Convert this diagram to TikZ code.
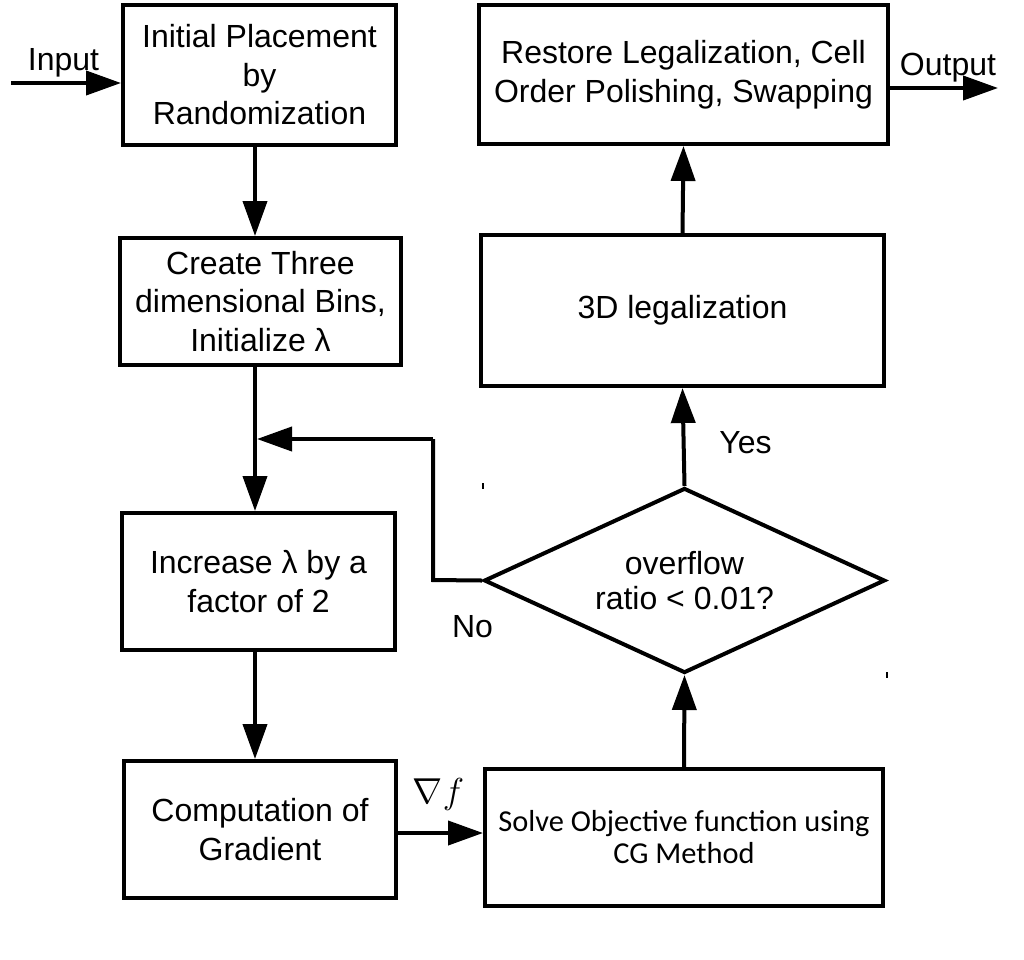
\documentclass[tikz,border=0pt]{standalone}
\usepackage{fontspec}
\setmainfont{Liberation Sans}
\newfontfamily\carlitofont{Carlito}
\usetikzlibrary{shapes.geometric,arrows.meta}
\begin{document}
\begin{tikzpicture}[x=1pt,y=-1pt,
  box/.style={draw,line width=4pt,inner sep=0pt,align=center,
    font=\fontsize{32}{38.5}\selectfont},
  dec/.style={draw,diamond,shape aspect=2.17,line width=4pt,inner sep=0pt,align=center,
    font=\fontsize{32}{35}\selectfont},
  lbl/.style={inner sep=0pt,anchor=base,font=\fontsize{32}{37}\selectfont},
  arr/.style={line width=4pt,-{Triangle[length=35pt,width=24pt]}},
  ln/.style={line width=4pt},
  tick/.style={line width=1.2pt}]
\useasboundingbox (0,0) rectangle (1024,959);
% nodes
\node[box,minimum width=273pt,minimum height=140pt] (b1) at (259.5,75) {Initial Placement\\by\\Randomization};
\node[box,minimum width=281pt,minimum height=127pt] (b2) at (260.5,301.5) {Create Three\\dimensional Bins,\\Initialize λ};
\node[box,minimum width=273pt,minimum height=137pt] (b3) at (258.5,581.5) {Increase λ by a\\factor of 2};
\node[box,minimum width=272pt,minimum height=137pt] (b4) at (260,829.5) {Computation of\\Gradient};
\node[box,minimum width=398pt,minimum height=137pt,font=\carlitofont\fontsize{30.4}{32}\selectfont] (b5) at (684,837.5) {Solve Objective function using\\CG Method};
\node[dec,minimum width=401pt,minimum height=185pt] (d) at (684.5,580.5) {overflow\\ratio < 0.01?};
\node[box,minimum width=403pt,minimum height=151pt] (b7) at (682.5,310.5) {3D legalization};
\node[box,minimum width=409pt,minimum height=139pt] (b8) at (683.5,74.5) {Restore Legalization, Cell\\Order Polishing, Swapping};
% helper coordinates
\coordinate (colL) at (255,0);
\coordinate (in) at (11,83);
\coordinate (out) at (998,88);
\coordinate (merge) at (255,439);
\coordinate (turn) at (433,580);
% connectors
\draw[arr] (in) -- (in -| b1.west);
\draw[arr] (out -| b8.east) -- (out);
\draw[arr] (b1.south -| colL) -- (b2.north -| colL);
\draw[arr] (b2.south -| colL) -- (b3.north -| colL);
\draw[arr] (b3.south -| colL) -- (b4.north -| colL);
\draw[arr] (b4.east |- 0,833) -- (b5.west |- 0,833);
\draw[arr] (b5.north) -- (d.south);
\draw[arr] (d.north) -- (b7.south);
\draw[arr] (b7.north) -- (b8.south);
\draw[ln] (d.west) -- (turn) -- (turn |- merge);
\draw[arr] (turn |- merge) -- ([xshift=2pt]merge);
% labels
\node[lbl] (tin) at (63.5,70) {Input};
\node[lbl] (tout) at (948,75) {Output};
\node[lbl] (tyes) at (745.5,453) {Yes};
\node[lbl] (tno) at (472.5,637) {No};
\node[lbl,font=\fontsize{24}{24}\selectfont] (tgrad) at (438.5,803) {\scalebox{1.45}{$\nabla f$}};
% small tick marks
\draw[tick] (483,483) -- (483,489);
\draw[tick] (887,672) -- (887,678);
\end{tikzpicture}
\end{document}
